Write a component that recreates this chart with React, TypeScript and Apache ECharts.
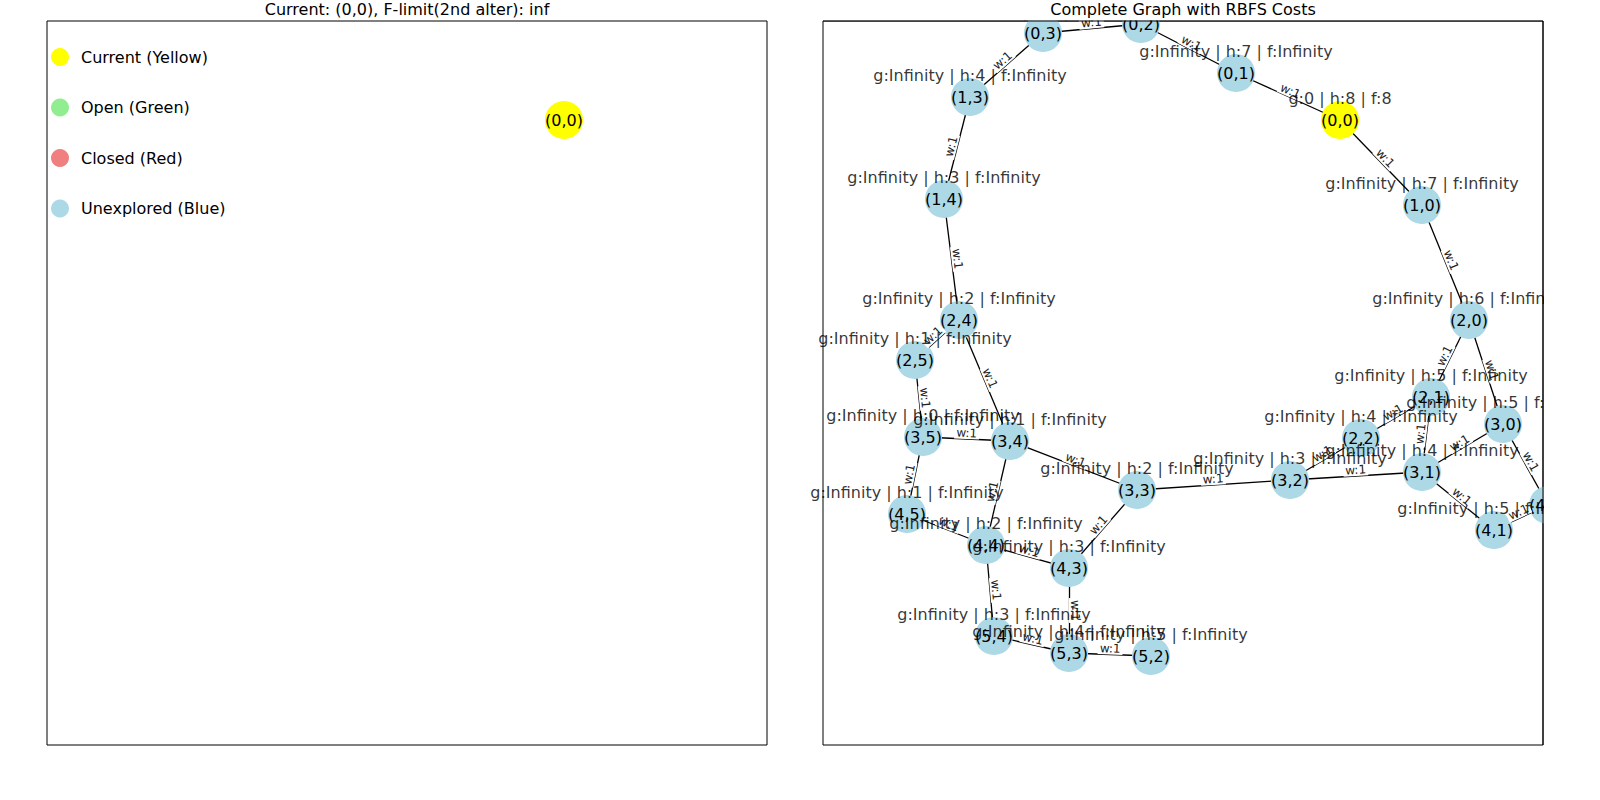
import { useEffect, useRef } from "react";
import * as echarts from "echarts";

// node layout (axes units, 0..720 wide, 0..724 tall, y grows downward)
const nodeNames = ["(0,0)", "(0,1)", "(0,2)", "(0,3)", "(1,0)", "(1,3)", "(1,4)", "(2,0)", "(2,1)", "(2,2)", "(2,4)", "(2,5)", "(3,0)", "(3,1)", "(3,2)", "(3,3)", "(3,4)", "(3,5)", "(4,0)", "(4,1)", "(4,3)", "(4,4)", "(4,5)", "(5,2)", "(5,3)", "(5,4)"];
const nodeX = [517, 413, 318, 220, 599, 147, 121, 646, 608, 538, 136, 92, 680, 599, 467, 314, 187, 100, 725, 671, 246, 163, 84, 328, 246, 171];
const nodeY = [99, 52, 3, 12, 184, 76, 178, 299, 376, 417, 299, 339, 403, 451, 459, 469, 420, 416, 484, 509, 547, 524, 493, 635, 632, 615];
const nodeH = [8, 7, 6, 5, 7, 4, 3, 6, 5, 4, 2, 1, 5, 4, 3, 2, 1, 0, 6, 5, 3, 2, 1, 5, 4, 3];
const nodeG = ["0", "Infinity", "Infinity", "Infinity", "Infinity", "Infinity", "Infinity", "Infinity", "Infinity", "Infinity", "Infinity", "Infinity", "Infinity", "Infinity", "Infinity", "Infinity", "Infinity", "Infinity", "Infinity", "Infinity", "Infinity", "Infinity", "Infinity", "Infinity", "Infinity", "Infinity"];
const nodeF = ["8", "Infinity", "Infinity", "Infinity", "Infinity", "Infinity", "Infinity", "Infinity", "Infinity", "Infinity", "Infinity", "Infinity", "Infinity", "Infinity", "Infinity", "Infinity", "Infinity", "Infinity", "Infinity", "Infinity", "Infinity", "Infinity", "Infinity", "Infinity", "Infinity", "Infinity"];
const currentNode = "(0,0)";

const edges: [string, string][] = [
  ["(0,3)", "(0,2)"], ["(0,2)", "(0,1)"], ["(0,1)", "(0,0)"], ["(0,3)", "(1,3)"],
  ["(1,3)", "(1,4)"], ["(0,0)", "(1,0)"], ["(1,0)", "(2,0)"], ["(1,4)", "(2,4)"],
  ["(2,4)", "(2,5)"], ["(2,4)", "(3,4)"], ["(2,0)", "(2,1)"], ["(2,0)", "(3,0)"],
  ["(2,1)", "(2,2)"], ["(2,1)", "(3,1)"], ["(3,0)", "(3,1)"], ["(3,0)", "(4,0)"],
  ["(3,1)", "(3,2)"], ["(3,1)", "(4,1)"], ["(4,1)", "(4,0)"], ["(2,2)", "(3,2)"],
  ["(3,2)", "(3,3)"], ["(3,3)", "(3,4)"], ["(3,3)", "(4,3)"], ["(2,5)", "(3,5)"],
  ["(3,5)", "(3,4)"], ["(3,5)", "(4,5)"], ["(3,4)", "(4,4)"], ["(4,5)", "(4,4)"],
  ["(4,4)", "(4,3)"], ["(4,4)", "(5,4)"], ["(4,3)", "(5,3)"], ["(5,4)", "(5,3)"],
  ["(5,3)", "(5,2)"],
];
const edgeWeights = edges.map(() => 1);

const legendNames = ["Current (Yellow)", "Open (Green)", "Closed (Red)", "Unexplored (Blue)"];
const legendColors = ["#ffff00", "#90ee90", "#f08080", "#add8e6"];

const FONT = "DejaVu Sans";

export default function App() {
  const ref = useRef<HTMLDivElement>(null);

  useEffect(() => {
    if (!ref.current) return;
    const chart = echarts.init(ref.current, null, { renderer: "svg" });

    const hiddenX = (i: number) => ({ gridIndex: i, type: "value" as const, min: 0, max: 720, show: false });
    const hiddenY = (i: number) => ({ gridIndex: i, type: "value" as const, min: 0, max: 724, inverse: true, show: false });

    const graphNodes = nodeNames.map((n, i) => ({
      name: n,
      value: [nodeX[i], nodeY[i]],
      itemStyle: { color: n === currentNode ? "#ffff00" : "#add8e6" },
    }));
    const ci = nodeNames.indexOf(currentNode);

    chart.setOption({
      animation: false,
      grid: [
        { left: 47, top: 21, width: 720, height: 724, show: true, borderColor: "#000", borderWidth: 1 },
        { left: 823, top: 21, width: 720, height: 724, show: true, borderColor: "#000", borderWidth: 1 },
      ],
      xAxis: [hiddenX(0), hiddenX(1)],
      yAxis: [hiddenY(0), hiddenY(1)],
      series: [
        {
          type: "graph",
          coordinateSystem: "cartesian2d",
          xAxisIndex: 0,
          yAxisIndex: 0,
          symbolSize: 38,
          data: [graphNodes[ci]],
          label: { show: true, position: "inside", color: "#000", fontSize: 16, fontFamily: FONT },
        },
        {
          type: "graph",
          coordinateSystem: "cartesian2d",
          xAxisIndex: 1,
          yAxisIndex: 1,
          symbolSize: 38,
          data: graphNodes,
          links: edges.map(([s, t], i) => ({ source: s, target: t, value: edgeWeights[i] })),
          lineStyle: { color: "#000", width: 1.3, opacity: 1 },
          label: { show: true, position: "inside", color: "#000", fontSize: 16, fontFamily: FONT },
          edgeLabel: {
            show: true,
            formatter: (p: any) => "w:" + p.value,
            fontSize: 12,
            fontFamily: FONT,
            color: "#222",
            backgroundColor: "#fff",
            padding: [0, 2],
            position: "middle",
            distance: 0,
          },
          z: 2,
        },
        {
          type: "scatter",
          xAxisIndex: 1,
          yAxisIndex: 1,
          symbolSize: 0,
          data: nodeNames.map((n, i) => ({ value: [nodeX[i], nodeY[i]], name: `g:${nodeG[i]} | h:${nodeH[i]} | f:${nodeF[i]}` })),
          label: { show: true, position: "top", distance: 14, formatter: "{b}", color: "#000", fontSize: 16, fontFamily: FONT },
          z: 5,
        },
        {
          type: "scatter",
          xAxisIndex: 0,
          yAxisIndex: 0,
          symbolSize: 18,
          data: legendNames.map((n, i) => ({ value: [13, 36 + i * 50.5], name: n, itemStyle: { color: legendColors[i], opacity: 1 } })),
          label: { show: true, position: "right", distance: 12, formatter: "{b}", color: "#000", fontSize: 16, fontFamily: FONT },
          z: 5,
        },
      ],
      graphic: [
        { type: "rect", shape: { x: 1544, y: 0, width: 60, height: 800 }, style: { fill: "#fff" }, z: 100 },
        { type: "rect", shape: { x: 823, y: 0, width: 730, height: 20.5 }, style: { fill: "#fff" }, z: 100 },
        { type: "line", shape: { x1: 823, y1: 21, x2: 1543, y2: 21 }, style: { stroke: "#000", lineWidth: 1 }, z: 101 },
        { type: "line", shape: { x1: 1543, y1: 21, x2: 1543, y2: 745 }, style: { stroke: "#000", lineWidth: 1 }, z: 101 },
        { type: "text", x: 407, y: 9, style: { text: "Current: (0,0), F-limit(2nd alter): inf", fontSize: 16, fontFamily: FONT, fill: "#000", align: "center", verticalAlign: "middle" }, z: 102 },
        { type: "text", x: 1183, y: 9, style: { text: "Complete Graph with RBFS Costs", fontSize: 16, fontFamily: FONT, fill: "#000", align: "center", verticalAlign: "middle" }, z: 102 },
      ],
    });

    return () => chart.dispose();
  }, []);

  return <div ref={ref} style={{ position: "fixed", left: 0, top: 0, width: 1600, height: 800, background: "#fff" }} />;
}
